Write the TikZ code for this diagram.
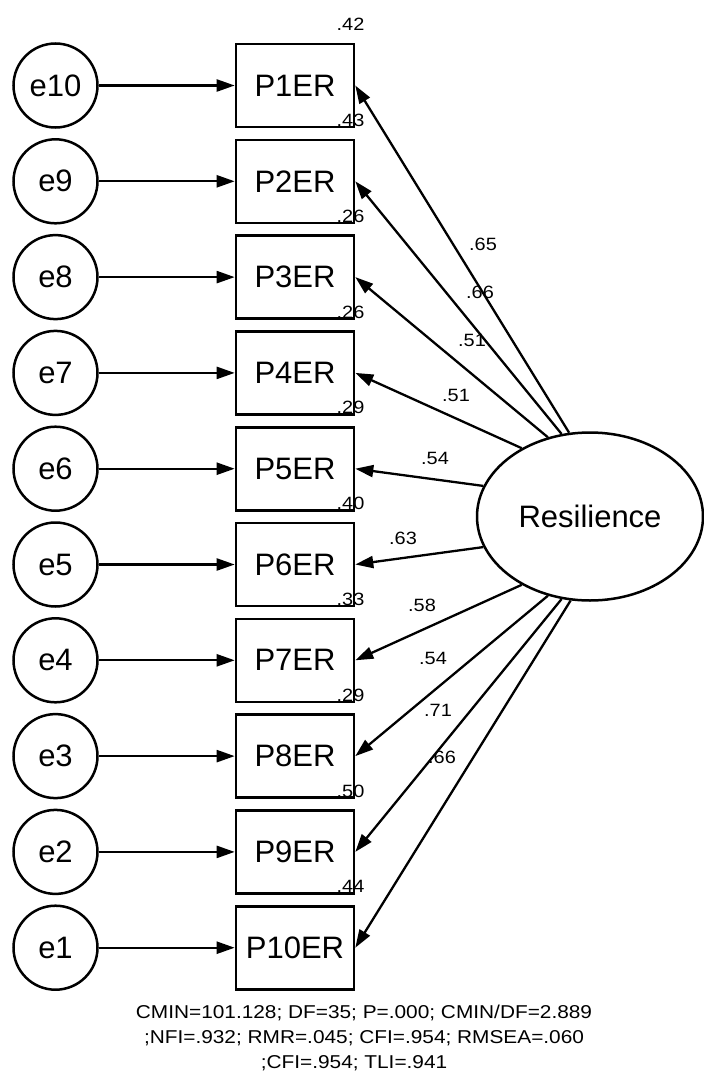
\documentclass[tikz,border=0pt]{standalone}
\usepackage{fontspec}
\setmainfont{Liberation Sans}
\newfontfamily\widesans{Liberation Sans}[FakeStretch=1.12]
\usetikzlibrary{arrows.meta,shapes.geometric}
\begin{document}
\begin{tikzpicture}[x=1pt,y=-1pt,
  line width=2.3pt,
  arr/.style={-{Triangle[length=18pt,width=12pt]}, line width=2.3pt},
  errc/.style={circle, draw, line width=2.5pt, minimum size=84pt, inner sep=0pt, font=\fontsize{31}{36}\selectfont},
  obs/.style={rectangle, draw, line width=2.6pt, minimum width=118pt, minimum height=83pt, inner sep=0pt, font=\fontsize{31}{36}\selectfont},
  lat/.style={ellipse, draw, line width=2.5pt, minimum width=226pt, minimum height=168pt, inner sep=0pt, font=\fontsize{31}{36}\selectfont},
  coef/.style={inner sep=0pt, font=\widesans\fontsize{17.8}{22}\selectfont},
  stat/.style={inner sep=0pt, anchor=base, font=\widesans\fontsize{18.6}{25}\selectfont}]
\useasboundingbox (0,0) rectangle (704,1079);
\fill[white] (0,0) rectangle (704,1079);
\node[lat] (R) at (590,516.5) {Resilience};
\foreach \i/\r in {1/.42,2/.43,3/.26,4/.26,5/.29,6/.40,7/.33,8/.29,9/.50,10/.44} {
  \pgfmathsetmacro\yy{85.5+(\i-1)*95.8}
  \pgfmathtruncatemacro\ee{11-\i}
  \node[errc] (e\ee) at (55.5,\yy) {e\ee};
  \node[obs] (P\i) at (295,\yy) {P\i ER};
  \node[coef, anchor=east] (r\i) at (365.5,\yy-61) {\r};
  \draw[arr] (e\ee) -- (P\i);
}
\foreach \i/\a in {1/104,2/109,3/118,4/135,5/164,6/196,7/225,8/242,9/251,10/257}
  \draw[arr] (R.\a) -- (P\i.east);
\node[coef] (l1) at (483,244) {.65};
\node[coef] (l2) at (480,292) {.66};
\node[coef] (l3) at (472,340) {.51};
\node[coef] (l4) at (456,395) {.51};
\node[coef] (l5) at (435,458) {.54};
\node[coef] (l6) at (403,538) {.63};
\node[coef] (l7) at (422,605) {.58};
\node[coef] (l8) at (433,658) {.54};
\node[coef] (l9) at (438,710) {.71};
\node[coef] (l10) at (442,757) {.66};
\node[stat] (s1) at (364,1018.5) {CMIN=101.128; DF=35; P=.000; CMIN/DF=2.889};
\node[stat] (s2) at (364,1043.5) {;NFI=.932; RMR=.045; CFI=.954; RMSEA=.060};
\node[stat] (s3) at (354,1068.5) {;CFI=.954; TLI=.941};
\end{tikzpicture}
\end{document}
